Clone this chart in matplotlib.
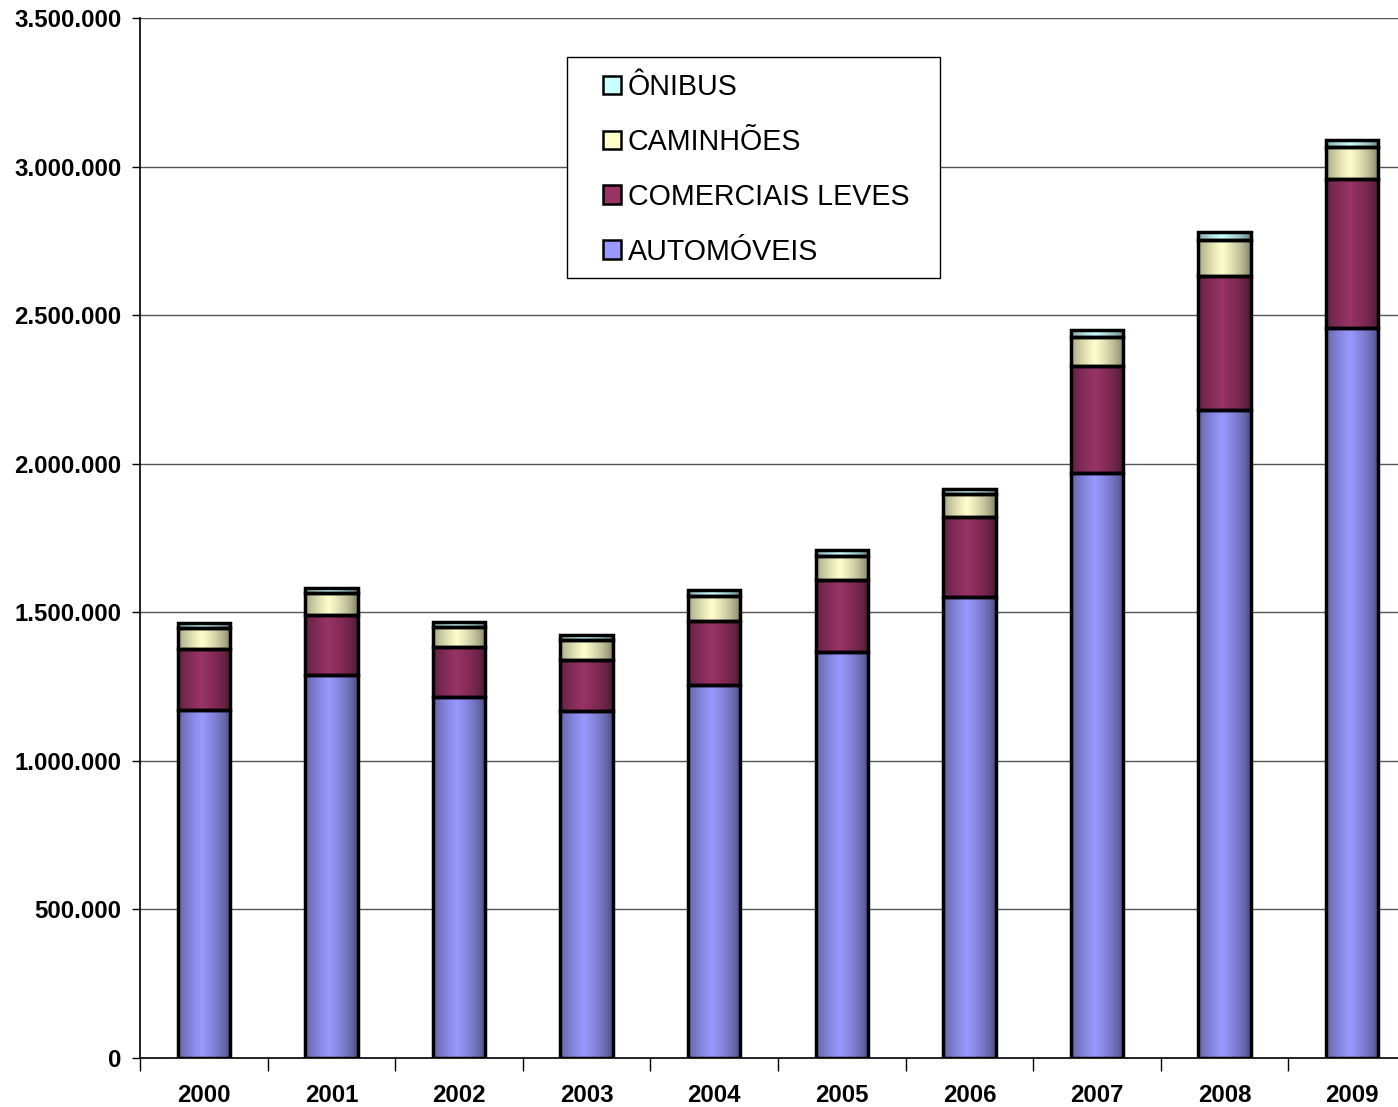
import numpy as np
import matplotlib
matplotlib.use('Agg')
import matplotlib.pyplot as plt
from matplotlib.patches import Patch, Rectangle
from matplotlib.colors import to_rgb

plt.rcParams['font.family'] = ['Liberation Sans', 'DejaVu Sans']

# dados (unidades)
anos = ['2000', '2001', '2002', '2003', '2004', '2005', '2006', '2007', '2008', '2009']
automoveis = [1171000, 1289000, 1215000, 1168000, 1255000, 1366000, 1551000, 1969000, 2181000, 2457000]
comerciais_leves = [205000, 202000, 168000, 171000, 216000, 243000, 270000, 360000, 451000, 501000]
caminhoes = [71000, 74000, 67000, 68000, 84000, 80000, 77000, 97000, 121000, 108000]
onibus = [17000, 17000, 17000, 17000, 20000, 21000, 17000, 24000, 27000, 23000]

series = [
    ('AUTOMÓVEIS', automoveis, '#9999FF'),
    ('COMERCIAIS LEVES', comerciais_leves, '#993366'),
    ('CAMINHÕES', caminhoes, '#FFFFCC'),
    ('ÔNIBUS', onibus, '#CCFFFF'),
]

fig = plt.figure(figsize=(13.98, 11.07), dpi=100)
ax = fig.add_axes([140 / 1398, 49 / 1107, 1276 / 1398, 1040 / 1107])

x = np.arange(len(anos))
largura = 0.41


def gradiente(cor):
    # sombreado horizontal: bordas escuras, centro claro
    t = np.linspace(0, 1, 64)
    luz = 1 - np.abs(t - 0.45) / 0.55
    luz = np.clip(luz, 0, 1) ** 0.6
    fator = 0.45 + 0.55 * luz
    rgb = np.array(to_rgb(cor))
    img = rgb[None, :] * fator[:, None]
    return img[None, :, :]


base = np.zeros(len(anos))
for nome, vals, cor in series:
    vals = np.array(vals, dtype=float)
    barras = ax.bar(x, vals, largura, bottom=base, color=cor, edgecolor='black',
                    linewidth=2.5, zorder=3)
    img = gradiente(cor)
    for b in barras:
        x0, y0 = b.get_x(), b.get_y()
        ax.imshow(img, extent=[x0, x0 + b.get_width(), y0, y0 + b.get_height()],
                  aspect='auto', zorder=3.5, interpolation='bilinear')
        b.set_facecolor('none')
        b.set_zorder(4)
    base += vals

ax.set_xlim(-0.5, len(anos) - 0.5)
ax.set_ylim(0, 3500000)
ax.set_yticks(np.arange(0, 3500001, 500000))
ax.set_yticklabels(['0' if v == 0 else f'{v:,}'.replace(',', '.') for v in range(0, 3500001, 500000)],
                   fontsize=17.3, fontweight='bold')
ax.yaxis.grid(True, color='#555555', linewidth=1, zorder=0)
ax.set_axisbelow(True)

ax.set_xticks(x)
ax.set_xticklabels(anos, fontsize=17.3, fontweight='bold')
ax.tick_params(axis='x', length=0, pad=19)
ax.set_xticks(np.arange(-0.5, len(anos), 1), minor=True)
ax.tick_params(axis='x', which='minor', length=9, width=1, direction='out')
ax.tick_params(axis='y', length=5.5, width=1, direction='out', pad=8)

for lado in ['top', 'right']:
    ax.spines[lado].set_visible(False)
ax.spines['left'].set_linewidth(1.2)
ax.spines['bottom'].set_linewidth(1.2)

# caixa da legenda
fig.patches.append(Rectangle((567 / 1398, 1 - 278 / 1107), 373 / 1398, 221 / 1107,
                             transform=fig.transFigure, facecolor='white',
                             edgecolor='black', linewidth=1, zorder=9))

handles = [Patch(facecolor=cor, edgecolor='black', linewidth=1.8, label=nome)
           for nome, vals, cor in series][::-1]
leg = fig.legend(handles=handles, loc='upper left', bbox_to_anchor=(603 / 1398, 1 - 73 / 1107),
                 fontsize=20.6, frameon=False,
                 handlelength=0.62, handleheight=0.62, handletextpad=0.25,
                 labelspacing=0.94, borderpad=0, borderaxespad=0)
leg.set_zorder(10)

fig.savefig('out.png', dpi=100, facecolor='white')
